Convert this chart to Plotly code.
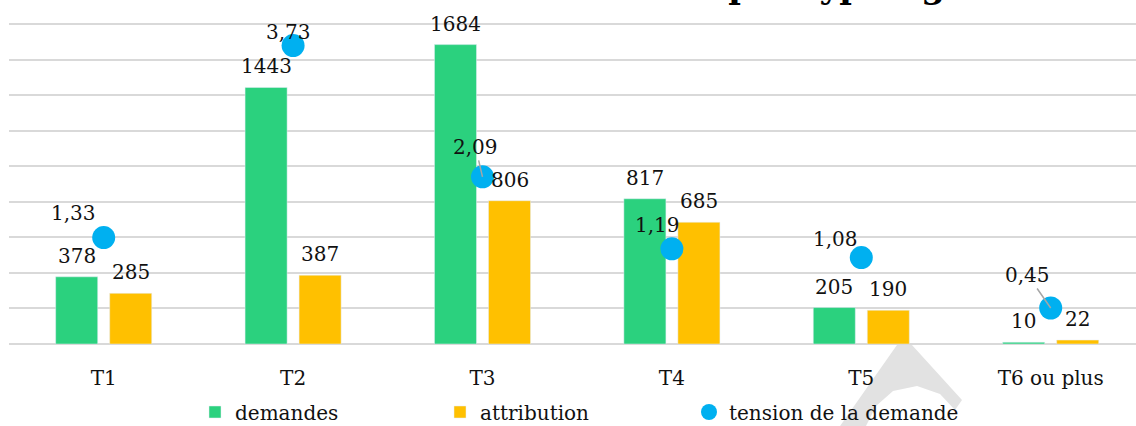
import plotly.graph_objects as go

# Data
categories = ["T1", "T2", "T3", "T4", "T5", "T6 ou plus"]
demandes = [378, 1443, 1684, 817, 205, 10]
attribution = [285, 387, 806, 685, 190, 22]
tension = [1.33, 3.73, 2.09, 1.19, 1.08, 0.45]

GREEN = "#2BD17E"
YELLOW = "#FFC000"
BLUE = "#00B0F0"
FONT = "DejaVu Serif"

W, H = 1136, 426
ML, MR, MT, MB = 9, 0, 22, 82
PW, PH = W - ML - MR, H - MT - MB

# 320 px per 1800 units; the plot area runs 2 px above the 1800 gridline
Y_MAX = 1800 * PH / 320
Y2_MAX = 4 * PH / 320

BAR_W = 0.222
OFF = 0.1426

xs = list(range(len(categories)))


def px(xp, yp):
    """Canvas pixel -> paper coordinates."""
    return (xp - ML) / PW, (MT + PH - yp) / PH


fig = go.Figure()
fig.add_trace(go.Bar(
    x=xs, y=demandes, name="demandes", marker_color=GREEN,
    width=BAR_W, offset=-OFF - BAR_W / 2, legend="legend",
))
fig.add_trace(go.Bar(
    x=xs, y=attribution, name="attribution", marker_color=YELLOW,
    width=BAR_W, offset=OFF - BAR_W / 2, legend="legend2",
))
fig.add_trace(go.Scatter(
    x=xs, y=tension, name="tension de la demande", mode="markers",
    marker=dict(color=BLUE, size=23), yaxis="y2", legend="legend3",
))

annotations = []
# value labels above each bar
for i, v in enumerate(demandes):
    annotations.append(dict(x=i - OFF, y=v, xref="x", yref="y", text=str(v),
                            showarrow=False, yanchor="bottom", yshift=7,
                            font=dict(family=FONT, size=20, color="#111")))
for i, v in enumerate(attribution):
    annotations.append(dict(x=i + OFF, y=v, xref="x", yref="y", text=str(v),
                            showarrow=False, yanchor="bottom", yshift=7,
                            font=dict(family=FONT, size=20, color="#111")))

# tension labels: (dx, dy) pixel offset of the label centre from the dot, leader line
label_pos = [(-30, -25, False), (-5, -14, False), (-7, -30, True),
             (-14, -24, False), (-26, -19, False), (-23, -33, True)]
for i, v in enumerate(tension):
    dx, dy, leader = label_pos[i]
    txt = f"{v:.2f}".replace(".", ",")
    if leader:
        annotations.append(dict(x=i, y=v, xref="x", yref="y2", text=txt,
                                showarrow=True, ax=dx, ay=dy, arrowhead=0,
                                arrowwidth=1.5, arrowcolor="#A6A6A6", standoff=0,
                                font=dict(family=FONT, size=20, color="#111")))
    else:
        annotations.append(dict(x=i, y=v, xref="x", yref="y2", text=txt,
                                showarrow=False, xshift=dx, yshift=-dy,
                                font=dict(family=FONT, size=20, color="#111")))

# chart title, sitting mostly above the top edge of the canvas
tx, ty = px(227, 8)
annotations.append(dict(
    x=tx, y=ty, xref="paper", yref="paper", xanchor="left", yanchor="bottom",
    text="<b>Demandes et attributions par typologie</b>", showarrow=False,
    font=dict(family=FONT, size=34, color="#000"),
))

# light grey background emblem below the T5 group
pts = [(840, 426), (897, 345), (912, 345), (962, 400), (955, 410),
       (940, 394), (917, 386), (893, 391), (876, 406), (866, 426)]
path = "M " + " L ".join(f"{px(a, b)[0]:.4f},{px(a, b)[1]:.4f}" for a, b in pts) + " Z"
shapes = [dict(type="path", xref="paper", yref="paper", path=path,
               fillcolor="#E2E2E2", line=dict(width=0), layer="below")]

legend_font = dict(family=FONT, size=20, color="#111")
ly = px(0, 412)[1]


def legend_at(xpix):
    return dict(x=px(xpix, 0)[0], xanchor="left", y=ly, yanchor="middle",
                orientation="h", font=legend_font, itemwidth=30,
                bgcolor="rgba(0,0,0,0)")


fig.update_layout(
    width=W, height=H,
    margin=dict(l=ML, r=MR, t=MT, b=MB, autoexpand=False),
    paper_bgcolor="white", plot_bgcolor="white",
    barmode="overlay",
    showlegend=True,
    legend=legend_at(195),
    legend2=legend_at(440),
    legend3=legend_at(689),
    xaxis=dict(range=[-0.5, -0.5 + PW / 189.4], tickmode="array",
               tickvals=xs, ticktext=categories, showgrid=False,
               zeroline=False, showline=False, ticks="",
               ticklabelstandoff=20,
               tickfont=dict(family=FONT, size=20, color="#111")),
    yaxis=dict(range=[0, Y_MAX], tickmode="linear", tick0=0, dtick=200,
               showgrid=True, gridcolor="#D9D9D9",
               gridwidth=1.5, zeroline=True, zerolinecolor="#D9D9D9",
               zerolinewidth=1.5, showticklabels=False, ticks=""),
    yaxis2=dict(range=[0, Y2_MAX], overlaying="y", side="right", showgrid=False,
                zeroline=False, showticklabels=False, ticks=""),
    annotations=annotations,
    shapes=shapes,
)

fig.write_html("out.html")
